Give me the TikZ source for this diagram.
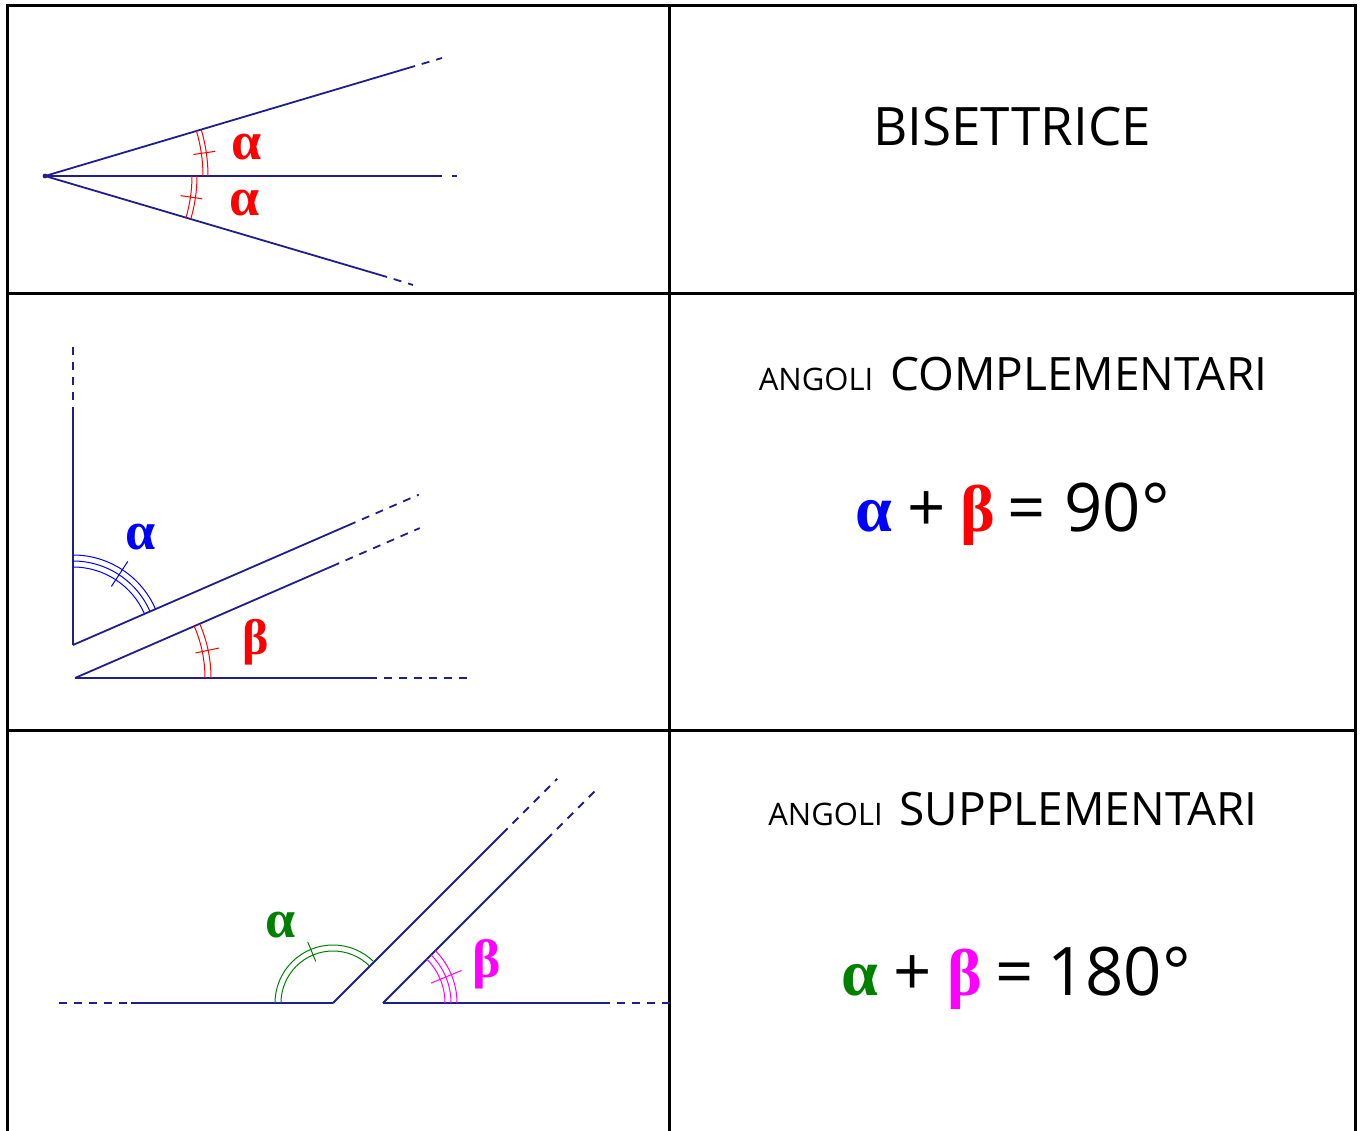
\documentclass[tikz,border=0pt]{standalone}
\usepackage{fontspec}
\usetikzlibrary{calc}
\setmainfont{Open Sans}
\newfontfamily\grk{Liberation Serif}
\definecolor{navyc}{RGB}{30,30,140}
\definecolor{greenc}{RGB}{0,128,0}
\definecolor{magc}{RGB}{255,0,255}
\definecolor{bluec}{RGB}{0,0,255}
\definecolor{redc}{RGB}{255,0,0}
\tikzset{
  grid/.style={black,line width=3pt},
  ln/.style={navyc,line width=1.8pt},
  ext/.style={navyc,line width=1.8pt,dash pattern=on 8pt off 7pt,dash phase=8pt},
  marc/.style={line width=1pt},
  flab/.style={inner sep=0pt,font=\grk\bfseries\fontsize{54}{54}\selectfont},
  ttl/.style={anchor=base,inner sep=0pt},
  eqn/.style={anchor=base,inner sep=0pt,font=\fontsize{67}{70}\selectfont},
  eqg/.style={anchor=base,inner sep=0pt,font=\grk\bfseries\fontsize{66}{70}\selectfont}
}
\begin{document}
\begin{tikzpicture}[x=1pt,y=-1pt]
\useasboundingbox (0,0) rectangle (1363,1131);
% table
\draw[grid] (7,1131) -- (7,6) -- (1355,6) -- (1355,1131);
\draw[grid] (7,294) -- (1355,294);
\draw[grid] (7,730) -- (1355,730);
\draw[grid] (669,6) -- (669,1131);

% ---------- top figure: bisettrice
\coordinate (V) at (45,176);
\coordinate (Us) at (415,66);
\coordinate (Ue) at (442,58);
\coordinate (Ms) at (442,176);
\coordinate (Me) at (467,176);
\coordinate (Ls) at (387,277);
\coordinate (Le) at (413,285);
\draw[ln] (V) -- (Us);
\draw[ext] (Us) -- (Ue);
\draw[ln] (V) -- (Ms);
\draw[ext,dash pattern=on 5pt off 10pt,dash phase=5pt] (Ms) -- (Me);
\draw[ln] (V) -- (Ls);
\draw[ext] (Ls) -- (Le);
\fill[navyc] (V) circle (2.4pt);
\draw[marc,redc] (V) ++(0:158) arc[start angle=0,end angle=-16.5,radius=158];
\draw[marc,redc] (V) ++(0:163) arc[start angle=0,end angle=-16.5,radius=163];
\draw[marc,redc] (V) ++(-8.25:150) -- ++(-8.25:22);
\draw[marc,redc] (V) ++(0:147) arc[start angle=0,end angle=16.5,radius=147];
\draw[marc,redc] (V) ++(0:152) arc[start angle=0,end angle=16.5,radius=152];
\draw[marc,redc] (V) ++(8.25:137) -- ++(8.25:22);
\node[flab,text=redc] (a1) at (247,147) {α};
\node[flab,text=redc] (a2) at (245,203) {α};

% ---------- middle figure: complementari
\coordinate (A) at (73,645);
\coordinate (B) at (75,678);
\coordinate (Vs) at (73,407);
\coordinate (Ve) at (73,347);
\draw[ln] (A) -- (Vs);
\draw[ext] (Vs) -- (Ve);
\draw[ln] (A) -- ++(-23.5:308) coordinate (S1);
\draw[ext] (S1) -- ($(A)+(-23.5:377)$);
\draw[ln] (B) -- ++(-23.5:288) coordinate (S2);
\draw[ext] (S2) -- ($(B)+(-23.5:376)$);
\coordinate (Hs) at (377,678);
\coordinate (He) at (468,678);
\draw[ln] (B) -- (Hs);
\draw[ext] (Hs) -- (He);
\foreach \r in {78,84,90}{
  \draw[marc,bluec] (A) ++(-90:\r) arc[start angle=-90,end angle=-23.5,radius=\r];
}
\draw[marc,bluec] (A) ++(-56.75:70) -- ++(-56.75:30);
\draw[marc,redc] (B) ++(0:130) arc[start angle=0,end angle=-23.5,radius=130];
\draw[marc,redc] (B) ++(0:136) arc[start angle=0,end angle=-23.5,radius=136];
\draw[marc,redc] (B) ++(-11.75:123) -- ++(-11.75:24);
\node[flab,text=bluec] (a3) at (141,537) {α};
\node[flab,text=redc,font=\grk\bfseries\fontsize{50}{50}\selectfont] (b3) at (256,642) {β};

% ---------- bottom figure: supplementari
\coordinate (C) at (333,1003);
\coordinate (D) at (383,1003);
\coordinate (Hl) at (52,1003);
\coordinate (Hm) at (131,1003);
\coordinate (Hr) at (610,1003);
\coordinate (Hre) at (676,1003);
\draw[ext] (Hl) -- (Hm);
\draw[ln] (Hm) -- (C);
\draw[ln] (C) -- ++(-45:247) coordinate (S3);
\draw[ext] (S3) -- ($(C)+(-45:317)$);
\draw[ln] (D) -- ++(-45:239) coordinate (S4);
\draw[ext] (S4) -- ($(D)+(-45:304)$);
\draw[ln] (D) -- (Hr);
\draw[ext] (Hr) -- (Hre);
\draw[marc,greenc] (C) ++(-45:52) arc[start angle=-45,end angle=-180,radius=52];
\draw[marc,greenc] (C) ++(-45:58) arc[start angle=-45,end angle=-180,radius=58];
\draw[marc,greenc] (C) ++(-112.5:45) -- ++(-112.5:21);
\foreach \r in {62,68,74}{
  \draw[marc,magc] (D) ++(0:\r) arc[start angle=0,end angle=-45,radius=\r];
}
\draw[marc,magc] (D) ++(-22.5:52) -- ++(-22.5:33);
\node[flab,text=greenc] (a4) at (281,925) {α};
\node[flab,text=magc] (b4) at (487,964) {β};

% ---------- right column texts
\node[ttl] (t1) at (1012,146) {\fontsize{53}{60}\selectfont BISETTRICE};
\node[ttl] (t2) at (1013,391) {{\fontsize{31}{36}\selectfont ANGOLI}\hspace{17pt}{\fontsize{46}{52}\selectfont COMPLEMENTARI}};
\node[eqg,text=bluec] (e1a) at (874,531) {α};
\node[eqn] (e1p) at (927,531) {+};
\node[eqg,text=redc] (e1b) at (978,531) {β};
\node[eqn] (e1e) at (1027,531) {=};
\node[eqn] (e1n) at (1117,531) {90°};
\node[ttl] (t3) at (1013,825) {{\fontsize{31}{36}\selectfont ANGOLI}\hspace{17pt}{\fontsize{46}{52}\selectfont SUPPLEMENTARI}};
\node[eqg,text=greenc] (e2a) at (860,995) {α};
\node[eqn] (e2p) at (913,995) {+};
\node[eqg,text=magc] (e2b) at (965,995) {β};
\node[eqn] (e2e) at (1015,995) {=};
\node[eqn] (e2n) at (1119,995) {180°};
\end{tikzpicture}
\end{document}
